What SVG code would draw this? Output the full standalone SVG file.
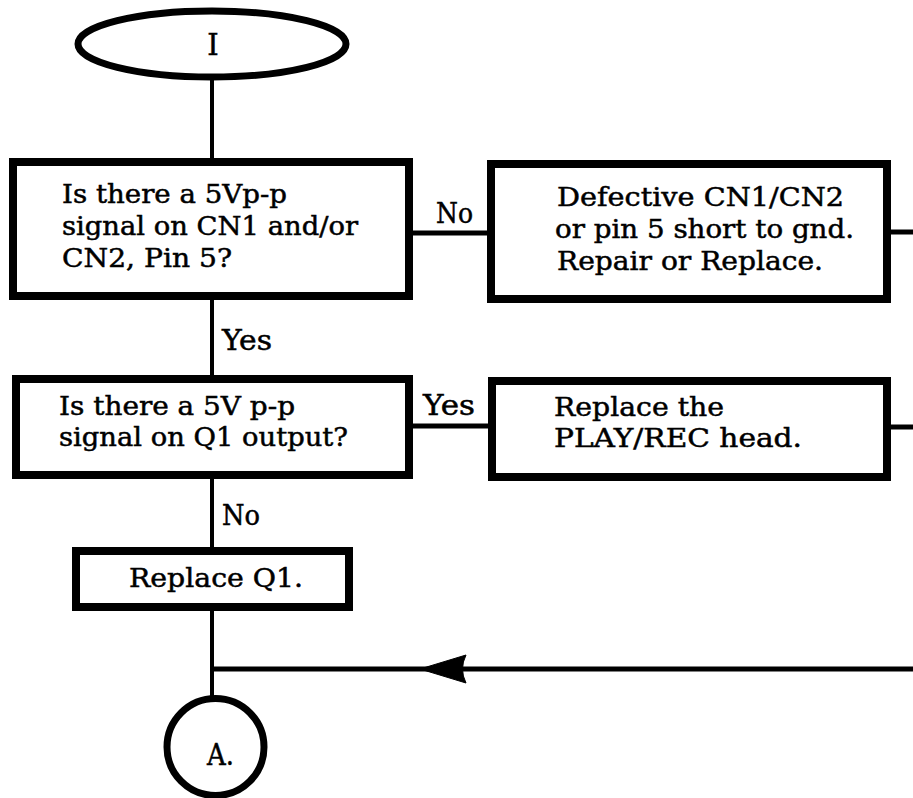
<svg xmlns="http://www.w3.org/2000/svg" width="913" height="798" viewBox="0 0 913 798">
<defs>
<style>
.box{fill:#fff;stroke:#000;stroke-width:8}
.term{fill:#fff;stroke:#000;stroke-width:7}
.ln{fill:none;stroke:#000;stroke-width:4}
.lh{fill:none;stroke:#000;stroke-width:5}
text{font-family:"DejaVu Serif","Liberation Serif",serif;font-size:26px;fill:#000;stroke:#000;stroke-width:0.5}
.lbl{font-size:27px}
.big{font-size:29px}
</style>
</defs>
<rect width="913" height="798" fill="#fff"/>
<g id="connectors">
<line class="ln" x1="212" y1="76" x2="212" y2="160"/>
<line class="lh" x1="413" y1="233" x2="489" y2="233"/>
<line class="lh" x1="889" y1="232" x2="913" y2="232"/>
<line class="ln" x1="212" y1="298" x2="212" y2="377"/>
<line class="lh" x1="411" y1="426" x2="490" y2="426"/>
<line class="lh" x1="889" y1="427" x2="913" y2="427"/>
<line class="ln" x1="212" y1="477" x2="212" y2="549"/>
<line class="ln" x1="212" y1="609" x2="212" y2="700"/>
<line class="lh" x1="212" y1="669" x2="913" y2="669"/>
<path d="M420,669 L466,655 Q459,669 466,683 Z" fill="#000" stroke="#000" stroke-width="1" stroke-linejoin="round"/>
<text class="lbl" x="436" y="223" textLength="37" lengthAdjust="spacingAndGlyphs">No</text>
<text class="lbl" x="222" y="350" textLength="50" lengthAdjust="spacingAndGlyphs">Yes</text>
<text class="lbl" x="423" y="415" textLength="52" lengthAdjust="spacingAndGlyphs">Yes</text>
<text class="lbl" x="222" y="525" textLength="38" lengthAdjust="spacingAndGlyphs">No</text>
</g>
<g id="start">
<ellipse class="term" cx="212" cy="44" rx="134" ry="33"/>
<text class="big" x="213" y="55" text-anchor="middle">I</text>
</g>
<g id="q1">
<rect class="box" x="13" y="162" width="396" height="134"/>
<text x="62" y="203" textLength="225" lengthAdjust="spacingAndGlyphs">Is there a 5Vp-p</text>
<text x="62" y="235" textLength="296" lengthAdjust="spacingAndGlyphs">signal on CN1 and/or</text>
<text x="62" y="267" textLength="170" lengthAdjust="spacingAndGlyphs">CN2, Pin 5?</text>
</g>
<g id="fix1">
<rect class="box" x="491" y="164" width="396" height="135"/>
<text x="557" y="206" textLength="287" lengthAdjust="spacingAndGlyphs">Defective CN1/CN2</text>
<text x="555" y="238" textLength="299" lengthAdjust="spacingAndGlyphs">or pin 5 short to gnd.</text>
<text x="557" y="270" textLength="266" lengthAdjust="spacingAndGlyphs">Repair or Replace.</text>
</g>
<g id="q2">
<rect class="box" x="16" y="379" width="393" height="96"/>
<text x="59" y="415" textLength="236" lengthAdjust="spacingAndGlyphs">Is there a 5V p-p</text>
<text x="59" y="446" textLength="289" lengthAdjust="spacingAndGlyphs">signal on Q1 output?</text>
</g>
<g id="fix2">
<rect class="box" x="492" y="381" width="395" height="96"/>
<text x="554" y="416" textLength="170" lengthAdjust="spacingAndGlyphs">Replace the</text>
<text x="554" y="447" textLength="248" lengthAdjust="spacingAndGlyphs">PLAY/REC head.</text>
</g>
<g id="fix3">
<rect class="box" x="76" y="551" width="273" height="56"/>
<text x="129" y="587" textLength="174" lengthAdjust="spacingAndGlyphs">Replace Q1.</text>
</g>
<g id="end">
<circle class="term" cx="215.5" cy="747" r="48.5"/>
<text class="big" x="207" y="765" textLength="27" lengthAdjust="spacingAndGlyphs">A.</text>
</g>
</svg>
